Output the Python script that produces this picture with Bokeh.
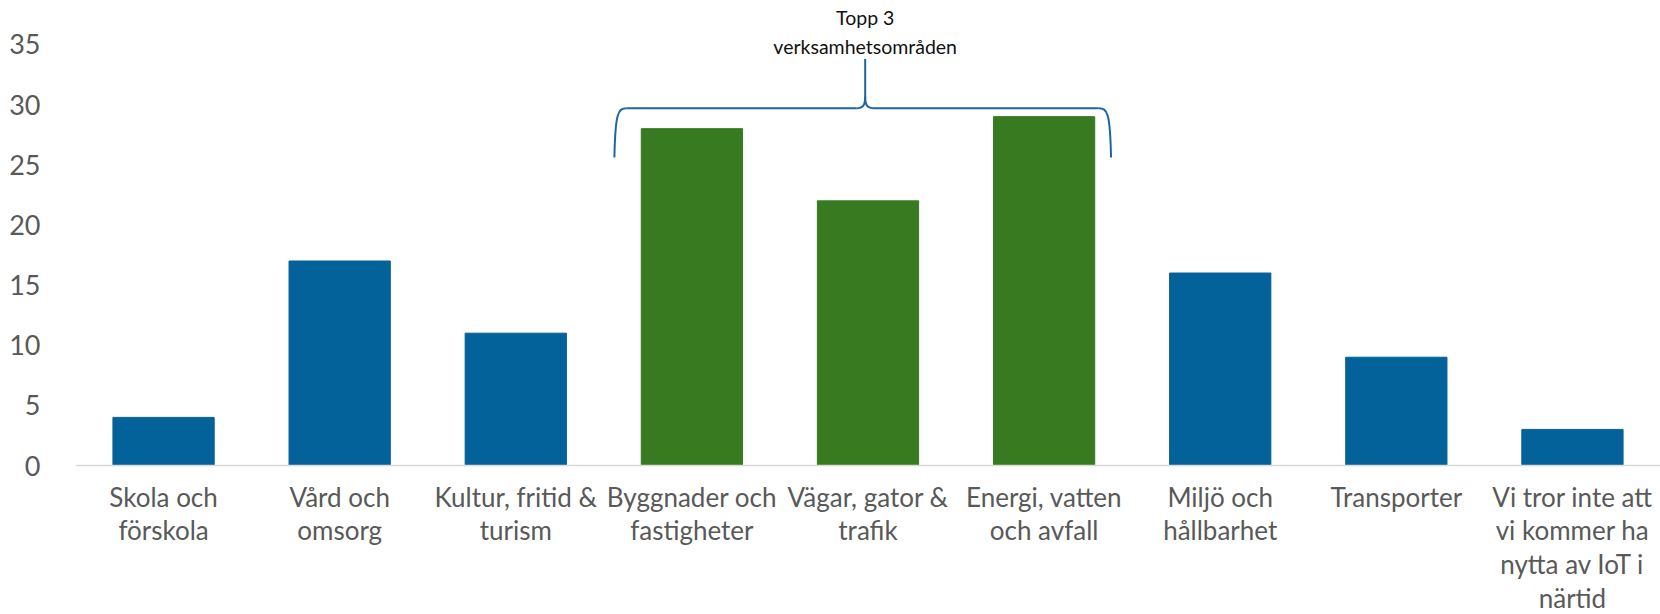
from bokeh.plotting import figure
from bokeh.models import Range1d, FixedTicker, Span
from bokeh.embed import file_html
from bokeh.resources import INLINE
from bokeh.core.properties import value

categories = ["Skola och\nförskola", "Vård och\nomsorg", "Kultur, fritid &\nturism",
              "Byggnader och\nfastigheter", "Vägar, gator &\ntrafik", "Energi, vatten\noch avfall",
              "Miljö och\nhållbarhet", "Transporter",
              "Vi tror inte att\nvi kommer ha\nnytta av IoT i\nnärtid"]
values = [4, 17, 11, 28, 22, 29, 16, 9, 3]
top3 = [False, False, False, True, True, True, False, False, False]
y_ticks = [0, 5, 10, 15, 20, 25, 30, 35]
annotation_lines = ["Topp 3", "verksamhetsområden"]

BLUE = "#026299"
GREEN = "#387A20"
GRAY = "#595959"
FONT = "Lato"

W, H = 1660, 614
LEFT = 75            # frame left (px)
BASE = 465           # pixel row of the zero line
PX_PER_UNIT = 12.03  # vertical pixels per value unit

idx = list(range(len(categories)))
colors = [GREEN if t else BLUE for t in top3]

y_lo = -(H - BASE) / PX_PER_UNIT
y_hi = BASE / PX_PER_UNIT

p = figure(width=W, height=H, output_backend="svg", toolbar_location=None,
           x_range=Range1d(-0.5, len(categories) - 0.5), y_range=Range1d(y_lo, y_hi),
           x_axis_location=None,
           min_border_left=LEFT, min_border_right=0, min_border_top=0, min_border_bottom=0)
p.outline_line_color = None
p.grid.grid_line_color = None

p.vbar(x=idx, top=values, width=0.575, color=colors)

# zero baseline
p.add_layout(Span(location=0, dimension="width", line_color="#D9D9D9", line_width=1.5))

# y axis
p.yaxis.ticker = FixedTicker(ticks=y_ticks)
p.yaxis.axis_line_color = None
p.yaxis.major_tick_line_color = None
p.yaxis.minor_tick_line_color = None
p.yaxis.major_label_text_font = FONT
p.yaxis.major_label_text_font_size = "27px"
p.yaxis.major_label_text_color = GRAY
p.yaxis.major_label_standoff = 29

# category labels under the baseline
label_gap_px = 15
p.text(x=idx, y=[-label_gap_px / PX_PER_UNIT] * len(idx), text=categories,
       text_align="center", text_baseline="top",
       text_font=value(FONT), text_font_size=value("26px"),
       text_color=GRAY, text_line_height=1.06)

# brace over the top-3 group
first = top3.index(True)
last = len(top3) - 1 - top3[::-1].index(True)
left = first - 0.44
right = last + 0.38
tip = (first + last) / 2 - 0.016
yb, yh, yt = 25.6, 29.7, 33.8
c = 0.07
bc = "#1B67A3"
p.bezier(x0=[left, right, tip - 0.05, tip + 0.05], y0=[yb, yb, yh, yh],
         x1=[left + c, right - c, tip, tip], y1=[yh, yh, yh + 1.0, yh + 1.0],
         cx0=[left + 0.005, right - 0.005, tip - 0.005, tip + 0.005],
         cy0=[yh - 0.4, yh - 0.4, yh, yh],
         cx1=[left + 0.02, right - 0.02, tip, tip],
         cy1=[yh, yh, yh + 0.4, yh + 0.4],
         line_color=bc, line_width=2)
p.segment(x0=[left + c, tip + 0.05, tip], y0=[yh, yh, yh + 1.0],
          x1=[tip - 0.05, right - c, tip], y1=[yh, yh, yt],
          line_color=bc, line_width=2)

p.text(x=[tip, tip], y=[37.25, 34.8], text=annotation_lines,
       text_align="center", text_baseline="middle",
       text_font=value(FONT), text_font_size=value("19.5px"), text_color="#111111")

open("out.html", "w").write(file_html(p, INLINE))
